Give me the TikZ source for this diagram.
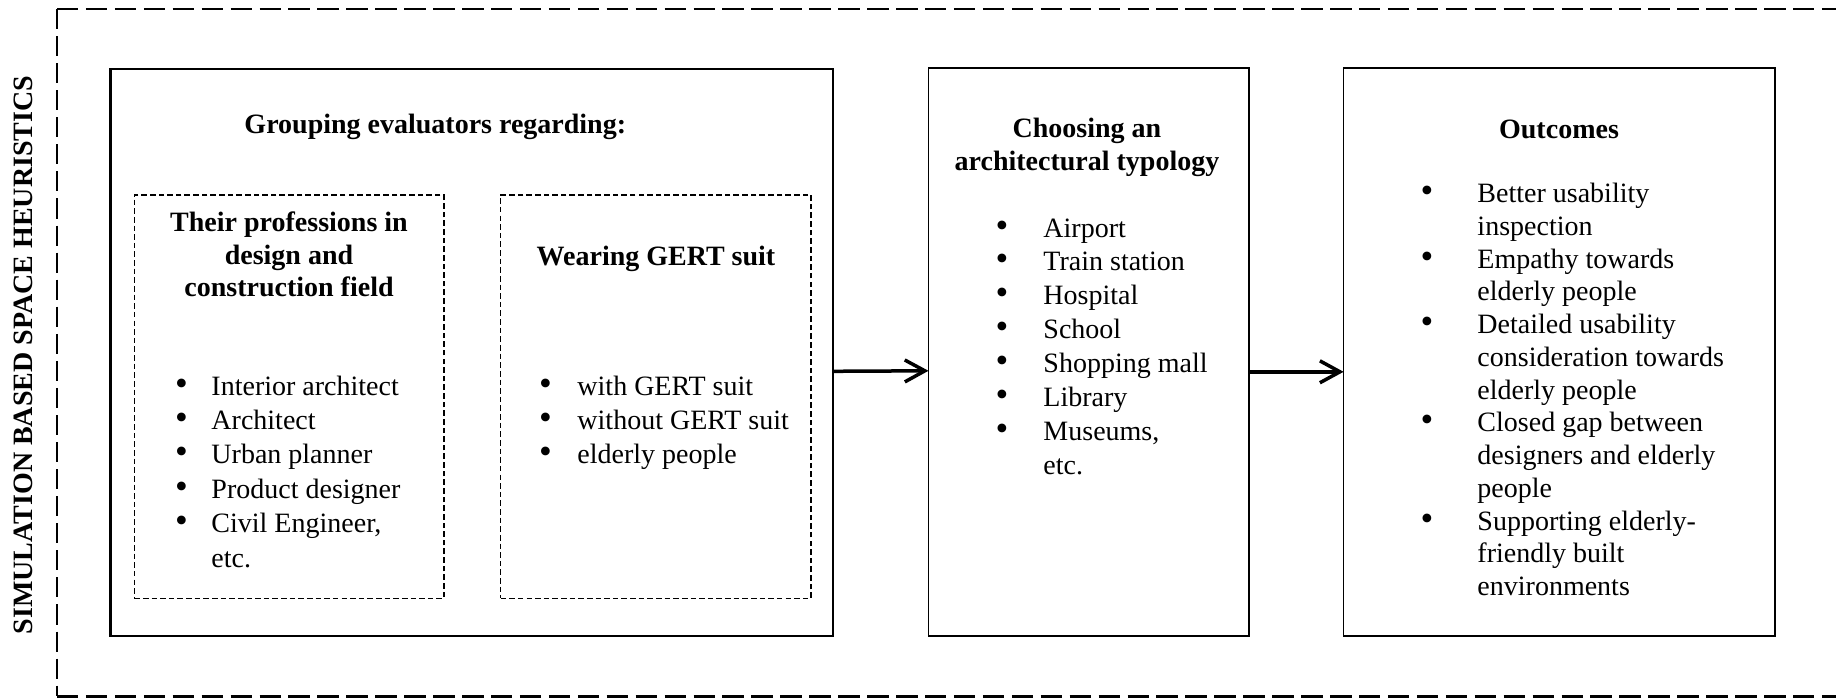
\documentclass[tikz,border=0pt]{standalone}
\usepackage{fontspec}
\setmainfont{Liberation Serif}
\newfontface\sidebold{Liberation Serif Bold}
\usetikzlibrary{arrows.meta}

% one drawing unit
\newdimen\pxu \pxu=0.428571pt
% bullet hanging to the left of the item text; #1 = distance from dot centre to text
\newcommand\blt[1]{\leavevmode\llap{\makebox[0pt][c]{\scalebox{1.3}{\textbullet}}\hspace{#1\pxu}}}
% 12pt text with a given line pitch
\newcommand\txt[1]{\fontsize{12pt}{#1\pxu}\selectfont}

\tikzset{
  framelong/.style={line width=1.16pt, dash pattern=on 9.2pt off 3.2pt},
  frameshort/.style={line width=0.6pt, dash pattern=on 8.6pt off 3pt},
  groupbox/.style={draw, line width=1pt, inner sep=0pt, outer sep=0pt},
  stagebox/.style={draw, line width=0.55pt, inner sep=0pt, outer sep=0pt},
  subbox/.style={draw, line width=0.45pt, dash pattern=on 2.4pt off 1.3pt, inner sep=0pt, outer sep=0pt},
  label/.style={inner sep=0pt, anchor=base},
  itemlist/.style={inner sep=0pt, anchor=base west},
  flow/.style={line width=1.5pt, -{Straight Barb[length=8.6pt, width=9.4pt, line width=1.5pt]}},
}

\begin{document}
\begin{tikzpicture}[x=0.428571pt, y=-0.428571pt]
\useasboundingbox (0,0) rectangle (1836,697);

% dashed frame around the whole method
\draw[framelong] (57,9) -- (1860,9);
\draw[frameshort] (57,9) -- (57,696);
\draw[framelong] (57,696.5) -- (1860,696.5);

% side title
\node[rotate=90, inner sep=0pt] (side) at (23,355)
  {\sidebold\fontsize{12pt}{14pt}\selectfont SIMULATION BASED SPACE HEURISTICS};

% stage boxes
\node[groupbox, minimum width=722.3\pxu, minimum height=567.4\pxu] (grpbox) at (471.65,352.5) {};
\node[stagebox, minimum width=320.5\pxu, minimum height=568\pxu] (typbox) at (1088.75,352) {};
\node[stagebox, minimum width=431.4\pxu, minimum height=568\pxu] (outbox) at (1559.3,352) {};

% evaluator sub-groups
\node[subbox, minimum width=309.7\pxu, minimum height=403.3\pxu] (profbox) at (289.15,396.65) {};
\node[subbox, minimum width=310.4\pxu, minimum height=403.3\pxu] (suitbox) at (655.8,396.65) {};

% headings
\node[inner sep=0pt, anchor=base west, font=\bfseries\txt{33}] (grptitle) at (244,133.5)
  {Grouping evaluators regarding:};
\node[label] (proftitle) at (289,231.5)
  {\parbox[t]{290\pxu}{\txt{32.5}\bfseries\centering Their professions in\\ design and\\ construction field}};
\node[label, font=\bfseries\txt{33}] (suittitle) at (656,265) {Wearing GERT suit};
\node[label] (typtitle) at (1087,137.5)
  {\parbox[t]{300\pxu}{\txt{32.5}\bfseries\centering Choosing an\\ architectural typology}};
\node[label, font=\bfseries\txt{33}] (outtitle) at (1559,138) {Outcomes};

% item lists
\node[itemlist] (proflist) at (211,395)
  {\parbox[t]{230\pxu}{\txt{34.4}\raggedright
   \blt{30}Interior architect\\
   \blt{30}Architect\\
   \blt{30}Urban planner\\
   \blt{30}Product designer\\
   \blt{30}Civil Engineer,\\
   etc.}};
\node[itemlist] (suitlist) at (577,395)
  {\parbox[t]{230\pxu}{\txt{34.4}\raggedright
   \blt{32}with GERT suit\\
   \blt{32}without GERT suit\\
   \blt{32}elderly people}};
\node[itemlist] (typlist) at (1043,237)
  {\parbox[t]{200\pxu}{\txt{33.9}\raggedright
   \blt{41.5}Airport\\
   \blt{41.5}Train station\\
   \blt{41.5}Hospital\\
   \blt{41.5}School\\
   \blt{41.5}Shopping mall\\
   \blt{41.5}Library\\
   \blt{41.5}Museums,\\
   etc.}};
\node[itemlist] (outlist) at (1477,202.5)
  {\parbox[t]{290\pxu}{\txt{32.75}\raggedright
   \blt{50.4}Better usability\\
   inspection\\
   \blt{50.4}Empathy towards\\
   elderly people\\
   \blt{50.4}Detailed usability\\
   consideration towards\\
   elderly people\\
   \blt{50.4}Closed gap between\\
   designers and elderly\\
   people\\
   \blt{50.4}Supporting elderly-\\
   friendly built\\
   environments}};

% flow between stages
\draw[flow] ([yshift=-18.8\pxu]grpbox.east) -- ([yshift=-18.8\pxu]typbox.west);
\draw[flow] ([yshift=-19.8\pxu]typbox.east) -- ([yshift=-19.8\pxu]outbox.west);
\end{tikzpicture}
\end{document}
